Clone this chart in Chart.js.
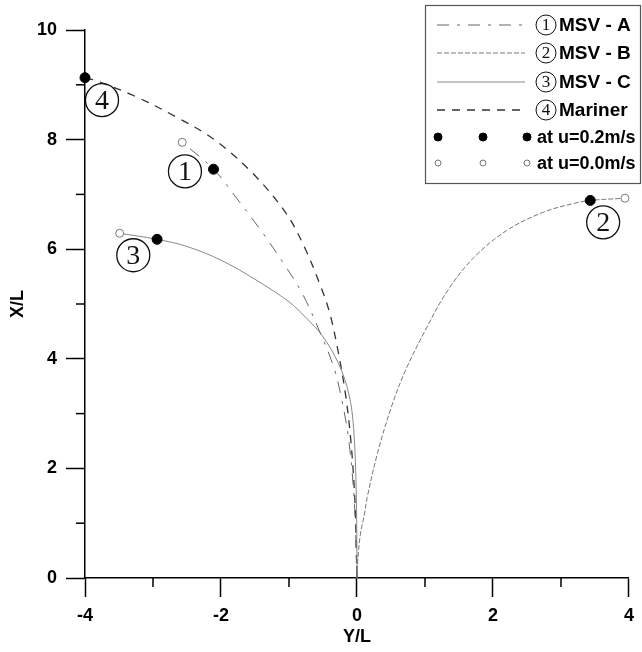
<!DOCTYPE html>
<html>
<head>
<meta charset="utf-8">
<script src="https://cdn.jsdelivr.net/npm/chart.js@4"></script>
<style>
  html, body { margin: 0; padding: 0; background: #fff; }
</style>
</head>
<body>
<canvas id="chart" width="642" height="652"></canvas>
<script>
// trajectories: horizontal = Y/L, vertical = X/L
const msvA_yl = [0, -0.04, -0.12, -0.22, -0.34, -0.55, -0.80, -1.10, -1.43, -1.77, -2.11, -2.57]
const msvA_xl = [0, 1.40, 2.50, 3.23, 3.84, 4.50, 5.18, 5.78, 6.37, 6.93, 7.46, 7.95]

const msvB_yl = [0, 0.01, 0.05, 0.11, 0.15, 0.30, 0.50, 0.71, 1.00, 1.33, 1.72, 2.20, 2.73, 3.17, 3.43, 3.94]
const msvB_xl = [0, 0.30, 0.80, 1.17, 1.47, 2.27, 3.10, 3.78, 4.51, 5.24, 5.85, 6.34, 6.67, 6.83, 6.89, 6.93]

const msvC_yl = [0, -0.01, -0.05, -0.12, -0.27, -0.51, -0.75, -1.00, -1.50, -2.00, -2.50, -2.94, -3.49]
const msvC_xl = [0, 1.50, 2.74, 3.36, 3.91, 4.42, 4.75, 5.04, 5.45, 5.80, 6.05, 6.18, 6.29]

const mariner_yl = [0, -0.01, -0.03, -0.09, -0.17, -0.28, -0.40, -0.53, -0.77, -1.04, -1.53, -2.10, -2.64, -3.28, -3.85, -4.00]
const mariner_xl = [0, 0.50, 1.40, 2.50, 3.36, 4.15, 4.83, 5.31, 6.03, 6.65, 7.38, 8.00, 8.40, 8.80, 9.08, 9.13]

// end points at u=0.2m/s and u=0.0m/s
const u02_yl = [-2.11, 3.43, -2.94, -4.00]
const u02_xl = [7.46, 6.89, 6.18, 9.13]
const u00_yl = [-2.57, 3.94, -3.49]
const u00_xl = [7.95, 6.93, 6.29]

// circled curve tags
const tagNum = ['1', '2', '3', '4']
const tagYl = [-2.53, 3.62, -3.29, -3.75]
const tagXl = [7.42, 6.49, 5.89, 8.72]

const legendNames = ['MSV - A', 'MSV - B', 'MSV - C', 'Mariner']
const markerNames = ['at u=0.2m/s', 'at u=0.0m/s']

const FONT = '"Liberation Sans", Arial, sans-serif'
const SERIF = '"Liberation Serif", "Times New Roman", serif'

function pts(xs, ys) {
   return xs.map((v, i) => ({ x: v, y: ys[i] }))
}

function curve(label, xs, ys, color, width, dash) {
   return {
      label: label,
      data: pts(xs, ys),
      showLine: true,
      borderColor: color,
      borderWidth: width,
      borderDash: dash,
      pointRadius: 0,
      tension: 0.35,
      fill: false
   }
}

const minorTicks = {
   id: 'minorTicks',
   afterDraw(chart) {
      const ctx = chart.ctx
      const xs = chart.scales.x
      const ys = chart.scales.y
      ctx.save()
      ctx.strokeStyle = '#000'
      ctx.lineWidth = 1.5
      xs.ticks.forEach(t => {
         if (t.value % 2 === 0) return
         const p = xs.getPixelForValue(t.value)
         ctx.beginPath(); ctx.moveTo(p, xs.top); ctx.lineTo(p, xs.top + 9); ctx.stroke()
      })
      ys.ticks.forEach(t => {
         if (t.value % 2 === 0) return
         const p = ys.getPixelForValue(t.value)
         ctx.beginPath(); ctx.moveTo(ys.right, p); ctx.lineTo(ys.right - 9, p); ctx.stroke()
      })
      ctx.restore()
   }
}

function circled(ctx, cx, cy, r, txt, size, lw) {
   ctx.beginPath()
   ctx.arc(cx, cy, r, 0, Math.PI * 2)
   ctx.lineWidth = lw
   ctx.strokeStyle = '#111'
   ctx.stroke()
   ctx.fillStyle = '#111'
   ctx.font = size + 'px ' + SERIF
   ctx.textAlign = 'center'
   ctx.textBaseline = 'middle'
   ctx.fillText(txt, cx, cy + size * 0.04)
}

const tags = {
   id: 'tags',
   afterDatasetsDraw(chart) {
      const ctx = chart.ctx
      const xs = chart.scales.x
      const ys = chart.scales.y
      ctx.save()
      tagNum.forEach((n, i) => {
         circled(ctx, xs.getPixelForValue(tagYl[i]), ys.getPixelForValue(tagXl[i]), 16.5, n, 28, 1.3)
      })
      ctx.restore()
   }
}

const boxLegend = {
   id: 'boxLegend',
   afterDraw(chart) {
      const ctx = chart.ctx
      const ds = chart.data.datasets
      const left = 425, top = 5, right = 640, bottom = 183
      const rows = [25, 53, 82, 110, 137, 163]
      ctx.save()
      ctx.fillStyle = '#fff'
      ctx.fillRect(left, top, right - left, bottom - top)
      ctx.strokeStyle = '#555'
      ctx.lineWidth = 1.2
      ctx.strokeRect(left + 0.5, top + 0.5, right - left, bottom - top)

      legendNames.forEach((name, i) => {
         const d = ds[i + 2]
         const y = rows[i]
         ctx.beginPath()
         ctx.setLineDash(d.borderDash)
         ctx.strokeStyle = d.borderColor
         ctx.lineWidth = d.borderWidth
         ctx.moveTo(437, y); ctx.lineTo(525, y); ctx.stroke()
         ctx.setLineDash([])
         circled(ctx, 546, y, 10, tagNum[i], 17, 1)
         ctx.fillStyle = '#000'
         ctx.font = 'bold 19px ' + FONT
         ctx.textAlign = 'left'
         ctx.textBaseline = 'middle'
         ctx.fillText(name, 559, y + 1)
      })

      const dotX = [438, 483, 527]
      markerNames.forEach((name, i) => {
         const d = ds[i]
         const y = rows[4 + i]
         dotX.forEach(x => {
            ctx.beginPath()
            ctx.arc(x, y, d.pointRadius - 1, 0, Math.PI * 2)
            ctx.fillStyle = d.pointBackgroundColor
            ctx.fill()
            ctx.lineWidth = d.pointBorderWidth
            ctx.strokeStyle = d.pointBorderColor
            ctx.stroke()
         })
         ctx.fillStyle = '#000'
         ctx.font = 'bold 18px ' + FONT
         ctx.textAlign = 'left'
         ctx.textBaseline = 'middle'
         ctx.fillText(name, 537, y + 1)
      })
      ctx.restore()
   }
}

new Chart(document.getElementById('chart'), {
   type: 'scatter',
   data: {
      datasets: [
         {
            label: markerNames[0],
            data: pts(u02_yl, u02_xl),
            pointRadius: 5,
            pointBackgroundColor: '#000',
            pointBorderColor: '#000',
            pointBorderWidth: 1,
            clip: false
         },
         {
            label: markerNames[1],
            data: pts(u00_yl, u00_xl),
            pointRadius: 4,
            pointBackgroundColor: '#fff',
            pointBorderColor: '#777',
            pointBorderWidth: 1,
            clip: false
         },
         curve(legendNames[0], msvA_yl, msvA_xl, '#666', 1, [12, 8, 3, 8]),
         curve(legendNames[1], msvB_yl, msvB_xl, '#777', 1, [5, 2]),
         curve(legendNames[2], msvC_yl, msvC_xl, '#888', 1, []),
         curve(legendNames[3], mariner_yl, mariner_xl, '#333', 1.3, [8, 7])
      ]
   },
   options: {
      responsive: false,
      animation: false,
      layout: { padding: { left: 0, top: 30, right: 8, bottom: 0 } },
      plugins: {
         legend: { display: false },
         tooltip: { enabled: false }
      },
      scales: {
         x: {
            type: 'linear',
            min: -4,
            max: 4,
            afterFit: s => { s.height = 74 },
            border: { display: true, color: '#000', width: 1.5 },
            grid: {
               drawOnChartArea: false,
               tickLength: 19,
               tickWidth: 1.5,
               tickColor: c => c.tick.value % 2 === 0 ? '#000' : 'rgba(0,0,0,0)'
            },
            ticks: {
               stepSize: 1,
               padding: 8,
               color: '#000',
               font: { family: FONT, size: 18, weight: 'bold' },
               callback: v => v % 2 === 0 ? v : ''
            },
            title: {
               display: true,
               text: 'Y/L',
               color: '#000',
               padding: { top: 0, bottom: 4 },
               font: { family: FONT, size: 18, weight: 'bold' }
            }
         },
         y: {
            type: 'linear',
            min: 0,
            max: 10,
            afterFit: s => { s.width = 85 },
            border: { display: true, color: '#000', width: 1.5 },
            grid: {
               drawOnChartArea: false,
               tickLength: 19,
               tickWidth: 1.5,
               tickColor: c => c.tick.value % 2 === 0 ? '#000' : 'rgba(0,0,0,0)'
            },
            ticks: {
               stepSize: 1,
               padding: 9,
               color: '#000',
               font: { family: FONT, size: 18, weight: 'bold' },
               callback: v => v % 2 === 0 ? v : ''
            },
            title: {
               display: true,
               text: 'X/L',
               color: '#000',
               padding: { top: 7, bottom: 0 },
               font: { family: FONT, size: 18, weight: 'bold' }
            }
         }
      }
   },
   plugins: [minorTicks, tags, boxLegend]
})
</script>
</body>
</html>
